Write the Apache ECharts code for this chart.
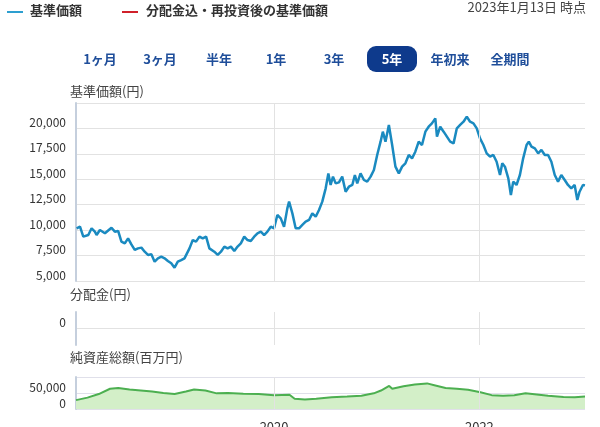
<!DOCTYPE html>
<html><head><meta charset="utf-8">
<script src="https://cdn.jsdelivr.net/npm/echarts@6/dist/echarts.min.js"></script>
<style>html,body{margin:0;padding:0;background:#fff}#c{width:600px;height:427px}</style>
</head><body><div id="c"></div>
<script>
// 基準価額 (decimal year, yen)
const priceYears = [2018.074,2018.107,2018.139,2018.188,2018.220,2018.252,2018.269,2018.301,2018.350,2018.414,2018.447,2018.479,2018.511,2018.544,2018.576,2018.608,2018.641,2018.673,2018.706,2018.738,2018.770,2018.803,2018.835,2018.867,2018.900,2018.932,2018.964,2018.997,2019.029,2019.061,2019.094,2019.126,2019.175,2019.207,2019.239,2019.272,2019.304,2019.337,2019.369,2019.417,2019.450,2019.482,2019.515,2019.547,2019.579,2019.612,2019.644,2019.676,2019.709,2019.741,2019.773,2019.806,2019.838,2019.871,2019.903,2019.935,2019.968,2020.000,2020.032,2020.065,2020.097,2020.129,2020.146,2020.178,2020.210,2020.243,2020.275,2020.307,2020.340,2020.372,2020.405,2020.437,2020.469,2020.502,2020.528,2020.550,2020.573,2020.599,2020.631,2020.663,2020.696,2020.728,2020.761,2020.786,2020.809,2020.841,2020.874,2020.906,2020.939,2020.971,2021.003,2021.036,2021.058,2021.084,2021.117,2021.149,2021.181,2021.214,2021.246,2021.278,2021.311,2021.343,2021.375,2021.408,2021.440,2021.473,2021.505,2021.537,2021.570,2021.586,2021.618,2021.651,2021.683,2021.715,2021.748,2021.780,2021.812,2021.845,2021.877,2021.909,2021.942,2021.974,2022.006,2022.039,2022.071,2022.104,2022.136,2022.168,2022.201,2022.223,2022.249,2022.282,2022.307,2022.330,2022.362,2022.395,2022.427,2022.460,2022.482,2022.508,2022.541,2022.573,2022.605,2022.638,2022.670,2022.702,2022.735,2022.767,2022.799,2022.832,2022.864,2022.896,2022.929,2022.955,2022.977,2023.010,2023.030];
const priceValues = [10180,10340,9360,9520,10180,9850,9520,10010,9690,10240,9850,9920,8870,8700,9190,8600,8050,8210,8280,7880,7560,7620,6900,7230,7390,7230,6970,6740,6310,6900,7060,7230,8210,9030,8870,9360,9190,9360,8210,7880,7560,7880,8380,8210,8380,7950,8380,8700,9360,9030,8930,9360,9690,9850,9520,9850,10340,10180,11490,11160,10340,12140,12800,11650,10180,10180,10510,10830,11000,11650,11320,11980,12800,14110,15580,14440,15260,14600,14700,15260,13780,14270,14440,15420,14600,15580,14930,14770,15260,15910,17390,18700,19680,18700,20340,18370,16240,15580,16240,16570,17390,17060,17710,18700,18370,19680,20170,20500,20990,19190,20170,19680,19190,18700,18530,20010,20340,20660,21160,20660,20500,20010,19020,18370,17550,17220,17390,16730,15420,16570,16240,15090,13450,14770,14440,15420,17060,18370,18700,18210,18040,17550,17880,17390,17390,16730,15420,14770,15420,14930,14440,14110,14440,12960,13780,14440,14400];
// 分配金 (円)
const divYears = [2018.074,2023.030];
const divValues = [0,0];
// 純資産総額 (百万円)
const navYears = [2018.068,2018.18,2018.29,2018.40,2018.48,2018.59,2018.70,2018.81,2018.92,2019.03,2019.14,2019.22,2019.33,2019.44,2019.55,2019.70,2019.85,2020.00,2020.15,2020.20,2020.30,2020.41,2020.56,2020.71,2020.85,2020.97,2021.04,2021.12,2021.15,2021.26,2021.37,2021.49,2021.56,2021.67,2021.78,2021.89,2022.01,2022.12,2022.23,2022.34,2022.45,2022.56,2022.67,2022.82,2022.93,2023.03];
const navValues = [27800,35600,46700,63300,65500,61100,57800,54400,50000,46700,54400,61100,57800,48900,50000,47800,46700,43300,44400,32200,30000,32200,36700,38900,41100,48900,57800,72200,63300,71100,76700,80000,74400,65500,63300,60000,52200,43300,41100,43300,48900,45600,41100,37800,36700,38900];
const yearTicks = [2020,2022];
const buttons = ['1ヶ月','3ヶ月','半年','1年','3年','5年','年初来','全期間'];
const selectedButton = '5年';

function yt(y){const yr=Math.floor(y);const s=Date.UTC(yr,0,1),e=Date.UTC(yr+1,0,1);return s+(y-yr)*(e-s);}
const pairs=(xs,vs)=>xs.map((x,i)=>[yt(x),vs[i]]);
const xMin=yt(2018.068), xMax=yt(2023.03);
const F='"Noto Sans CJK JP","Noto Sans",sans-serif';
const gridLeft=76, gridRight=15;
const tickMarks = yearTicks.map(y=>({xAxis:Date.UTC(y,0,1)}));
function xAx(idx,showLabel){return {type:'time',gridIndex:idx,min:xMin,max:xMax,
  axisLine:{show:false},axisTick:{show:false},splitLine:{show:false},
  axisLabel:{show:showLabel,color:'#333',fontSize:13,fontFamily:F,margin:12,hideOverlap:false,
    formatter:v=>{const d=new Date(v);const y=d.getUTCFullYear();
      return (d.getUTCMonth()===0&&d.getUTCDate()===1&&yearTicks.indexOf(y)>=0)?String(y):'';}}};}
const vline={silent:true,symbol:'none',label:{show:false},lineStyle:{color:'#e2e2e2',type:'solid',width:1},data:tickMarks};
const yLabel={color:'#333',fontSize:12,fontFamily:F,verticalAlign:'bottom',margin:10,hideOverlap:false,showMinLabel:true,showMaxLabel:true};
const yLine={show:true,lineStyle:{color:'#c5cfdd',width:2}};
const chart=echarts.init(document.getElementById('c'),null,{renderer:'canvas'});
const graphic=[];
graphic.push({type:'line',shape:{x1:7,y1:12,x2:23,y2:12},style:{stroke:'#2d9fd0',lineWidth:2}});
graphic.push({type:'text',left:30,top:4,style:{text:'基準価額',font:'bold 13px '+F,fill:'#333'}});
graphic.push({type:'line',shape:{x1:122,y1:12,x2:138,y2:12},style:{stroke:'#d0202a',lineWidth:2}});
graphic.push({type:'text',left:146,top:4,style:{text:'分配金込・再投資後の基準価額',font:'bold 13px '+F,fill:'#333'}});
graphic.push({type:'text',right:14,top:1,style:{text:'2023年1月13日 時点',font:'13px '+F,fill:'#444'}});
const bx=[100,160,219,276,334,392,450,510];
buttons.forEach((b,i)=>{
  const sel=b===selectedButton;
  if(sel) graphic.push({type:'rect',shape:{x:bx[i]-25,y:46,width:50,height:26,r:9},style:{fill:'#0e3a8c'}});
  graphic.push({type:'text',x:bx[i],y:59,style:{text:b,font:'bold 13px '+F,fill:sel?'#fff':'#1f4e9a',align:'center',verticalAlign:'middle'}});
});
graphic.push({type:'text',left:70,top:85,style:{text:'基準価額(円)',font:'13px '+F,fill:'#444'}});
graphic.push({type:'text',left:70,top:288,style:{text:'分配金(円)',font:'13px '+F,fill:'#444'}});
graphic.push({type:'text',left:70,top:351,style:{text:'純資産総額(百万円)',font:'13px '+F,fill:'#444'}});
const G={left:gridLeft,right:gridRight,outerBoundsMode:'none',containLabel:false};
chart.setOption({
  animation:false,
  graphic,
  grid:[Object.assign({top:103,height:178},G),
        Object.assign({top:312,height:33},G),
        Object.assign({top:377,height:32},G)],
  xAxis:[xAx(0,false),xAx(1,false),xAx(2,true)],
  yAxis:[
    {type:'value',gridIndex:0,min:5000,max:22500,interval:2500,axisLine:yLine,axisTick:{show:false},
     axisLabel:Object.assign({},yLabel,{formatter:v=>v>=22500?'':v.toLocaleString('en-US')}),
     splitLine:{lineStyle:{color:'#e2e2e2'}}},
    {type:'value',gridIndex:1,min:-1,max:1,interval:1,axisLine:yLine,axisTick:{show:false},
     axisLabel:Object.assign({},yLabel,{formatter:v=>v===0?'0':''}),
     splitLine:{lineStyle:{color:['transparent','#e2e2e2','transparent']}}},
    {type:'value',gridIndex:2,min:0,max:100000,interval:50000,axisLine:yLine,axisTick:{show:false},
     axisLabel:Object.assign({},yLabel,{formatter:v=>v===50000?'50,000':''}),
     splitLine:{lineStyle:{color:'#e0e0ea'}}}
  ],
  series:[
    {type:'line',xAxisIndex:0,yAxisIndex:0,data:pairs(priceYears,priceValues),showSymbol:false,
     lineStyle:{color:'#1a8ac0',width:2.5},itemStyle:{color:'#1a8ac0'},markLine:vline,z:3},
    {type:'line',xAxisIndex:1,yAxisIndex:1,data:pairs(divYears,divValues),showSymbol:false,
     lineStyle:{width:0},markLine:vline},
    {type:'line',xAxisIndex:2,yAxisIndex:2,data:pairs(navYears,navValues),showSymbol:false,
     lineStyle:{color:'#4caf50',width:2},itemStyle:{color:'#4caf50'},
     areaStyle:{color:'#d3efc8',opacity:1},markLine:vline}
  ]
});
// "0" label of the net-assets axis, placed at that axis's zero through the library's scale
const zeroPt = chart.convertToPixel({gridIndex:2},[xMin,0]);
chart.setOption({graphic: graphic.concat([{type:'text',x:zeroPt[0]-10,y:zeroPt[1],
  style:{text:'0',font:'12px '+F,fill:'#333',align:'right',verticalAlign:'bottom'}}])});
</script></body></html>
